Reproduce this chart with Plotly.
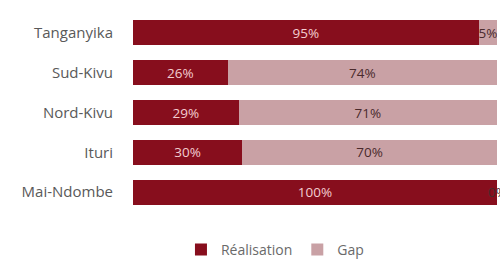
import plotly.graph_objects as go

provinces = ["Tanganyika", "Sud-Kivu", "Nord-Kivu", "Ituri", "Mai-Ndombe"]
realisation = [95, 26, 29, 30, 100]
gap = [5, 74, 71, 70, 0]

dark = "#870E1D"
light = "#C9A1A5"
font = "Open Sans"

fig = go.Figure()
fig.add_trace(go.Bar(
    y=provinces, x=realisation, orientation="h", name="Réalisation",
    marker=dict(color=dark, line=dict(width=0)),
    text=[f"{v}%" for v in realisation], textposition="inside",
    insidetextanchor="middle", constraintext="none", textangle=0,
    textfont=dict(family=font, size=13.5, color="#F3CDD1"),
))
fig.add_trace(go.Bar(
    y=provinces, x=gap, orientation="h", name="Gap",
    marker=dict(color=light, line=dict(width=0)),
    text=[f"{v}%" if v > 0 else "" for v in gap], textposition="inside",
    insidetextanchor="middle", constraintext="none", textangle=0,
    textfont=dict(family=font, size=13.5, color="#4A2A2C"),
))

# labels for zero-width gap segments (drawn at the segment position)
for p, r, g in zip(provinces, realisation, gap):
    if g == 0:
        fig.add_annotation(x=r + g / 2, y=p, text=f"{g}%", showarrow=False,
                           xanchor="center", yanchor="middle",
                           font=dict(family=font, size=13.5, color="#4A2A2C"))

fig.update_layout(
    width=500, height=260,
    barmode="stack", bargap=0.375,
    margin=dict(l=133, r=3, t=13, b=48, autoexpand=False),
    paper_bgcolor="white", plot_bgcolor="white",
    font=dict(family=font, size=15, color="#595959"),
    showlegend=True,
    legend=dict(orientation="h", x=0.39, xanchor="center",
                y=-0.19, yanchor="middle",
                font=dict(family=font, size=14, color="#6A6A6A"),
                traceorder="normal"),
    xaxis=dict(range=[0, 100], visible=False, fixedrange=True),
    yaxis=dict(autorange="reversed", showgrid=False, showline=False,
               ticks="", ticklabelstandoff=19,
               tickfont=dict(family=font, size=15, color="#595959")),
)

fig.write_html("out.html", config={"displayModeBar": False},
               post_script="document.body.style.margin='0';")
